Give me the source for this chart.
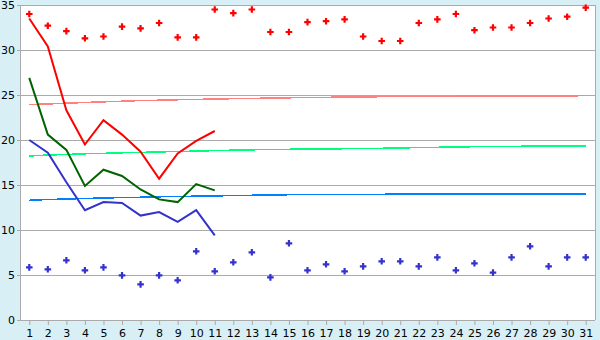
<!DOCTYPE html>
<html>
<head>
<meta charset="utf-8">
<script src="https://cdn.jsdelivr.net/npm/d3@7"></script>
<style>
  body { margin: 0; background: #d8eff6; }
  svg { display: block; }
</style>
</head>
<body>
<div id="chart"></div>
<script>
const days = d3.range(1, 32)

const highMarks = [34.0, 32.7, 32.1, 31.3, 31.5, 32.6, 32.4, 33.0, 31.4, 31.4,
  34.5, 34.1, 34.5, 32.0, 32.0, 33.1, 33.2, 33.4, 31.5, 31.0,
  31.0, 33.0, 33.4, 34.0, 32.2, 32.5, 32.5, 33.0, 33.5, 33.7, 34.7]

const lowMarks = [5.85, 5.63, 6.63, 5.52, 5.85, 4.96, 3.96, 4.96, 4.41, 7.63,
  5.41, 6.41, 7.52, 4.74, 8.52, 5.52, 6.19, 5.41, 5.96, 6.52,
  6.52, 5.96, 6.96, 5.52, 6.3, 5.26, 6.96, 8.19, 5.96, 6.96, 6.96]

const redLine = [33.5, 30.4, 23.3, 19.5, 22.2, 20.6, 18.7, 15.7, 18.5, 19.9, 21.0]
const greenLine = [26.9, 20.6, 18.9, 14.9, 16.7, 16.0, 14.5, 13.4, 13.1, 15.1, 14.4]
const blueLine = [20.0, 18.6, 15.3, 12.2, 13.1, 13.0, 11.6, 12.0, 10.9, 12.2, 9.4]

const redAvg = [23.94, 24.0, 24.09, 24.17, 24.24, 24.31, 24.38, 24.42, 24.47, 24.51,
  24.56, 24.59, 24.62, 24.66, 24.69, 24.72, 24.74, 24.77, 24.79, 24.81,
  24.83, 24.84, 24.85, 24.86, 24.87, 24.88, 24.89, 24.9, 24.9, 24.91, 24.92]

const greenAvg = [18.22, 18.33, 18.39, 18.47, 18.52, 18.58, 18.62, 18.68, 18.72, 18.77,
  18.82, 18.87, 18.91, 18.94, 18.97, 18.99, 19.01, 19.03, 19.06, 19.08,
  19.11, 19.16, 19.19, 19.22, 19.26, 19.28, 19.3, 19.31, 19.32, 19.33, 19.33]

const blueAvg = [13.3, 13.39, 13.44, 13.5, 13.56, 13.6, 13.64, 13.69, 13.72, 13.76,
  13.79, 13.82, 13.86, 13.89, 13.92, 13.94, 13.95, 13.96, 13.97, 13.97,
  13.98, 13.98, 13.99, 13.99, 14.0, 14.0, 14.0, 14.0, 14.0, 14.0, 14.0]

const yTicks = [0, 5, 10, 15, 20, 25, 30, 35]

const margin = { top: 5, left: 20, right: 5, bottom: 20 }
const width = 600 - margin.left - margin.right
const height = 340 - margin.top - margin.bottom

const svg = d3
  .select('#chart')
  .append('svg')
  .attr('width', 600)
  .attr('height', 340)
  .style('font-family', 'DejaVu Sans, Verdana, sans-serif')

const g = svg
  .append('g')
  .attr('transform', 'translate(' + margin.left + ',' + margin.top + ')')

const xScale = d3
  .scalePoint()
  .domain(days)
  .range([0, width])
  .padding(0.5)

const yScale = d3
  .scaleLinear()
  .domain([0, 35])
  .range([height, 0])

g.append('rect')
  .attr('width', width)
  .attr('height', height)
  .attr('fill', 'white')

// grid lines
g.selectAll('.grid')
  .data(yTicks)
  .enter()
  .append('line')
  .attr('class', 'grid')
  .attr('x1', 0)
  .attr('x2', width)
  .attr('y1', d => Math.round(yScale(d)) + 0.5)
  .attr('y2', d => Math.round(yScale(d)) + 0.5)
  .attr('stroke', '#aaaaaa')

g.append('line')
  .attr('x1', width + 0.5)
  .attr('x2', width + 0.5)
  .attr('y1', 0)
  .attr('y2', height)
  .attr('stroke', '#aaaaaa')

// axes
const yAxis = d3
  .axisLeft(yScale)
  .tickValues(yTicks)
  .tickSize(3)
  .tickPadding(2)

g.append('g')
  .attr('class', 'y-axis')
  .call(yAxis)

const xAxis = d3
  .axisBottom(xScale)
  .tickSize(5)
  .tickPadding(4)

g.append('g')
  .attr('class', 'x-axis')
  .attr('transform', 'translate(0,' + height + ')')
  .call(xAxis)

svg.selectAll('.domain, .tick line').attr('stroke', '#aaaaaa')
svg.selectAll('.x-axis .domain').remove()
svg
  .selectAll('.tick text')
  .attr('fill', '#000')
  .attr('font-size', 11)
  .attr('font-family', 'DejaVu Sans, Verdana, sans-serif')

// average step lines
const line = d3
  .line()
  .x((d, i) => xScale(days[i]))
  .y(d => yScale(d))

const avgSeries = [
  { values: redAvg, color: '#ff8080' },
  { values: greenAvg, color: '#00ff80' },
  { values: blueAvg, color: '#0080ff' }
]

g.selectAll('.avg')
  .data(avgSeries)
  .enter()
  .append('path')
  .attr('class', 'avg')
  .attr('fill', 'none')
  .attr('stroke', d => d.color)
  .attr('stroke-width', 1.5)
  .attr('shape-rendering', 'crispEdges')
  .attr('d', d => line(d.values))

// daily lines
const mainSeries = [
  { values: redLine, color: '#ff0000' },
  { values: greenLine, color: '#006400' },
  { values: blueLine, color: '#3333cc' }
]

g.selectAll('.main')
  .data(mainSeries)
  .enter()
  .append('path')
  .attr('class', 'main')
  .attr('fill', 'none')
  .attr('stroke', d => d.color)
  .attr('stroke-width', 2)
  .attr('d', d => line(d.values))

// markers
const marker = d3.symbol().type(d3.symbolCross).size(24)

const markSeries = [
  { values: highMarks, color: '#ff0000' },
  { values: lowMarks, color: '#3333cc' }
]

markSeries.forEach(s => {
  g.selectAll(null)
    .data(s.values)
    .enter()
    .append('path')
    .attr('d', marker)
    .attr('fill', s.color)
    .attr('transform', (d, i) => 'translate(' + xScale(days[i]) + ',' + yScale(d) + ')')
})
</script>
</body>
</html>
